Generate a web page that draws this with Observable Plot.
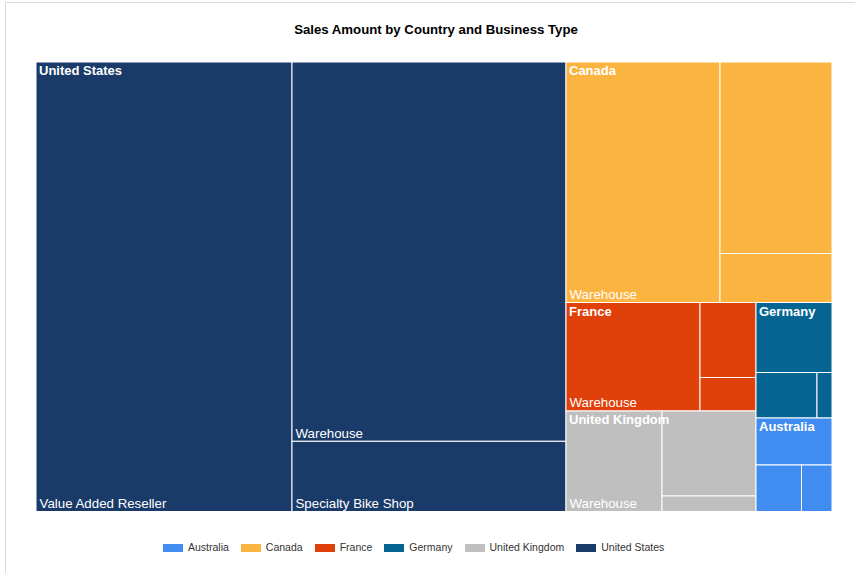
<!DOCTYPE html>
<html>
<head>
<meta charset="utf-8">
<script src="https://cdn.jsdelivr.net/npm/d3@7"></script>
<script src="https://cdn.jsdelivr.net/npm/@observablehq/plot@0.6"></script>
<style>
  html, body { margin: 0; padding: 0; background: #fff; }
  body { width: 855px; height: 573px; overflow: hidden; position: relative;
         font-family: "Liberation Sans", Arial, sans-serif; }
  #frame { position: absolute; left: 5px; top: 2px; width: 900px; height: 640px;
           border: 1px solid #d9d9d9; box-sizing: border-box; }
  #chart { position: absolute; left: 0; top: 0; }
  #title { position: absolute; left: 0; top: 22px; width: 872px; text-align: center;
           font-weight: bold; font-size: 13.2px; line-height: 15px; color: #000; }
  #legend { position: absolute; left: 163px; top: 540px; display: flex; align-items: center;
            font-size: 10.5px; line-height: 15px; color: #333; white-space: nowrap; }
  #legend .item { display: flex; align-items: center; margin-right: 12px; }
  #legend .sw { width: 20px; height: 8px; margin-right: 5px; }
</style>
</head>
<body>
<div id="frame"></div>
<div id="chart"></div>
<div id="title">Sales Amount by Country and Business Type</div>
<div id="legend"></div>
<script>
// ---- Data (sales amount) ----
const countries = ["United States", "Canada", "France", "United Kingdom", "Germany", "Australia"];
const businessTypes = ["Value Added Reseller", "Warehouse", "Specialty Bike Shop"];
const salesValueAddedReseller = [115072, 21448, 4200, 7990, 5320, 3572];
const salesWarehouse          = [103928, 37037, 14539, 9648, 683, 1418];
const salesSpecialtyBikeShop  = [19235, 5488, 1876, 1457, 2776, 2116];

const legendCountries = ["Australia", "Canada", "France", "Germany", "United Kingdom", "United States"];
const legendColors    = ["#418CF0", "#FCB441", "#E0400A", "#056492", "#BFBFBF", "#1A3B69"];

// ---- Build hierarchy ----
const seriesByType = [salesValueAddedReseller, salesWarehouse, salesSpecialtyBikeShop];
const tree = {
  name: "root",
  children: countries.map((c, i) => ({
    name: c,
    children: businessTypes.map((t, j) => ({name: t, country: c, value: seriesByType[j][i]}))
  }))
};

const W = 796, H = 449.5;
const root = d3.hierarchy(tree).sum(d => d.value || 0).sort((a, b) => b.value - a.value);
d3.treemap().tile(d3.treemapSquarify.ratio(1)).size([W, H]).padding(0)(root);

const leaves = root.leaves().map(d => ({
  x0: d.x0, x1: d.x1, y0: d.y0, y1: d.y1, country: d.data.country, type: d.data.name, value: d.value
}));
const countryNodes = root.children.map(d => ({
  x0: d.x0, x1: d.x1, y0: d.y0, y1: d.y1, name: d.data.name
}));

// show a leaf label only where it fits
const ctx = document.createElement("canvas").getContext("2d");
ctx.font = "13.3px 'Liberation Sans', Arial, sans-serif";
const labeledLeaves = leaves.filter(d =>
  ctx.measureText(d.type).width + 5 <= (d.x1 - d.x0) && (d.y1 - d.y0) >= 30
);

const chart = Plot.plot({
  width: 855,
  height: 573,
  marginLeft: 36,
  marginRight: 23,
  marginTop: 62,
  marginBottom: 573 - 62 - 449.5,
  style: {background: "transparent", fontFamily: "'Liberation Sans', Arial, sans-serif", overflow: "visible"},
  x: {domain: [0, W], axis: null},
  y: {domain: [0, H], reverse: true, axis: null},
  color: {domain: legendCountries, range: legendColors},
  marks: [
    Plot.rect(leaves, {x1: "x0", x2: "x1", y1: "y0", y2: "y1", fill: "country", stroke: "white", strokeWidth: 1}),
    Plot.text(countryNodes, {x: "x0", y: "y0", text: "name", textAnchor: "start", lineAnchor: "top",
      dx: 2.5, dy: 3.5, fill: "white", fontWeight: "bold", fontSize: 13}),
    Plot.text(labeledLeaves, {x: "x0", y: "y1", text: "type", textAnchor: "start", lineAnchor: "bottom",
      dx: 3, dy: -4, fill: "white", fontSize: 13.3})
  ]
});
document.getElementById("chart").appendChild(chart);

// legend
const lg = document.getElementById("legend");
legendCountries.forEach((c, i) => {
  const item = document.createElement("div");
  item.className = "item";
  const sw = document.createElement("div");
  sw.className = "sw";
  sw.style.background = legendColors[i];
  const t = document.createElement("span");
  t.textContent = c;
  item.appendChild(sw);
  item.appendChild(t);
  lg.appendChild(item);
});
</script>
</body>
</html>
